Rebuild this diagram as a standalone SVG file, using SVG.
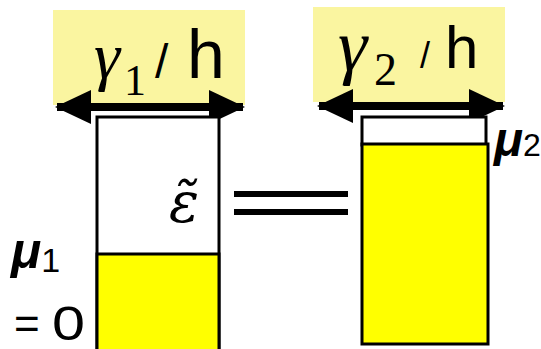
<svg xmlns="http://www.w3.org/2000/svg" width="541" height="349" viewBox="0 0 541 349">
<defs>
<style>
.lbl{fill:#FAF5A0}
.col{stroke:#000;stroke-width:3}
.sans{font-family:"Liberation Sans",Arial,sans-serif;fill:#000}
.serif{font-family:"Liberation Serif","Times New Roman",serif;fill:#000}
.shaft{stroke:#000;stroke-width:8;fill:none}
</style>
<marker id="ah" viewBox="0 0 36 34" refX="34" refY="17" markerWidth="36" markerHeight="34" markerUnits="userSpaceOnUse" orient="auto-start-reverse">
<path d="M0,0 L36,17 L0,34 Z" fill="#000"/>
</marker>
</defs>
<rect width="541" height="349" fill="#fff"/>
<g id="label-left">
<rect class="lbl" x="53" y="10" width="192" height="95"/>
<text class="serif" x="94" y="78" font-size="66" font-style="italic">γ</text>
<text class="serif" x="124" y="95" font-size="44">1</text>
<text class="sans" x="155" y="78" font-size="48">/</text>
<text class="sans" x="187" y="78" font-size="68">h</text>
</g>
<g id="label-right">
<rect class="lbl" x="313" y="7" width="192" height="95"/>
<text class="serif" x="338" y="70" font-size="74" font-style="italic">γ</text>
<text class="serif" x="374" y="85" font-size="46">2</text>
<text class="sans" x="420" y="68" font-size="36">/</text>
<text class="sans" x="445" y="68" font-size="60">h</text>
</g>
<g id="connectors">
<line class="shaft" x1="57" y1="107" x2="243" y2="107" marker-start="url(#ah)" marker-end="url(#ah)"/>
<line class="shaft" x1="319" y1="106" x2="503" y2="106" marker-start="url(#ah)" marker-end="url(#ah)"/>
</g>
<g id="column-left">
<rect class="col" x="97" y="117" width="122" height="250" fill="#fff"/>
<rect class="col" x="97" y="254" width="122" height="110" fill="#FFFF00"/>
<text x="169" y="222" font-size="56" font-style="italic" font-family="'DejaVu Serif',serif" fill="#000">ε̃</text>
</g>
<g id="column-right">
<rect class="col" x="362" y="117" width="124" height="28" fill="#fff"/>
<rect class="col" x="362" y="144" width="126" height="200" fill="#FFFF00"/>
</g>
<g id="equals">
<rect x="234" y="191" width="114" height="6" fill="#000"/>
<rect x="234" y="209" width="114" height="6" fill="#000"/>
</g>
<g id="mu1">
<text class="sans" x="11" y="268" font-size="50" font-style="italic" font-weight="bold">μ<tspan font-style="normal" font-weight="normal" font-size="34" dy="4">1</tspan></text>
<text class="sans" x="14" y="339" font-size="44">=</text>
<text class="sans" x="52" y="340" font-size="48" textLength="33" lengthAdjust="spacingAndGlyphs">0</text>
</g>
<g id="mu2">
<text class="sans" x="494" y="156" font-size="48" font-style="italic" font-weight="bold">μ<tspan font-style="normal" font-weight="normal" font-size="32">2</tspan></text>
</g>
</svg>
